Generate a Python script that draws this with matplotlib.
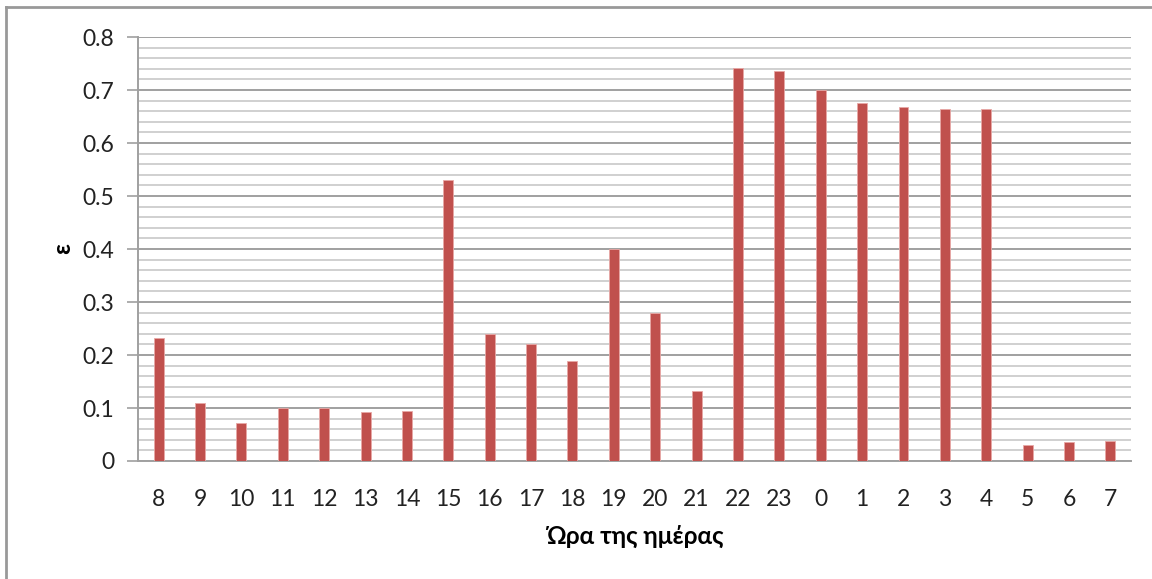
import numpy as np
import matplotlib
matplotlib.use("Agg")
import matplotlib.pyplot as plt
from matplotlib.lines import Line2D

plt.rcParams["font.family"] = ["Lato", "Open Sans", "DejaVu Sans"]

# ── data ────────────────────────────────────────────
hours = ["8", "9", "10", "11", "12", "13", "14", "15", "16", "17", "18", "19",
         "20", "21", "22", "23", "0", "1", "2", "3", "4", "5", "6", "7"]
eps = [0.232, 0.110, 0.071, 0.100, 0.100, 0.093, 0.095, 0.530, 0.240, 0.221,
       0.188, 0.400, 0.280, 0.132, 0.742, 0.736, 0.700, 0.675, 0.668, 0.665,
       0.665, 0.030, 0.035, 0.038]
y_ticks = [0, 0.1, 0.2, 0.3, 0.4, 0.5, 0.6, 0.7, 0.8]

fig = plt.figure(figsize=(11.52, 5.79), dpi=100)
ax = fig.add_axes([0.1198, 0.2038, 0.9818 - 0.1198, 0.936 - 0.2038])

x = np.arange(len(hours))
ax.bar(x, eps, width=0.24, color="#C0504D", edgecolor="#E8A8A6",
       linewidth=0.6, zorder=3)

ax.set_xlim(-0.5, len(hours) - 0.5)
ax.set_ylim(0, 0.8)
ax.set_yticks(y_ticks)
ax.set_yticklabels(["0", "0.1", "0.2", "0.3", "0.4", "0.5", "0.6", "0.7", "0.8"])
ax.set_yticks(np.arange(0, 0.8001, 0.02), minor=True)
ax.set_xticks(x)
ax.set_xticklabels(hours)

# gridlines: light minor, darker major
ax.grid(axis="y", which="minor", color="#D0D0D0", lw=1.4, zorder=0)
ax.grid(axis="y", which="major", color="#A0A0A0", lw=1.4, zorder=1)
ax.tick_params(axis="y", which="minor", length=0)
ax.tick_params(axis="y", which="major", length=8, width=1.2, color="#A0A0A0",
               labelsize=16.5, pad=9, labelcolor="#222222")
ax.tick_params(axis="x", length=0, labelsize=16.5, pad=20, labelcolor="#222222")

for s in ["top", "right"]:
    ax.spines[s].set_visible(False)
for s in ["left", "bottom"]:
    ax.spines[s].set_color("#A0A0A0")
    ax.spines[s].set_linewidth(1.4)

ax.set_xlabel("Ώρα της ημέρας", fontsize=17.5, fontweight="bold", labelpad=11)
ax.set_ylabel("ε", fontsize=17, fontweight="bold", labelpad=6)

# chart frame (only top and left visible in the crop)
fig.add_artist(Line2D([6 / 1152, 6 / 1152], [0, 1 - 7 / 579],
                      transform=fig.transFigure, color="#999999", lw=2))
fig.add_artist(Line2D([6 / 1152, 1], [1 - 7 / 579, 1 - 7 / 579],
                      transform=fig.transFigure, color="#999999", lw=2))

fig.savefig("out.png", dpi=100)
